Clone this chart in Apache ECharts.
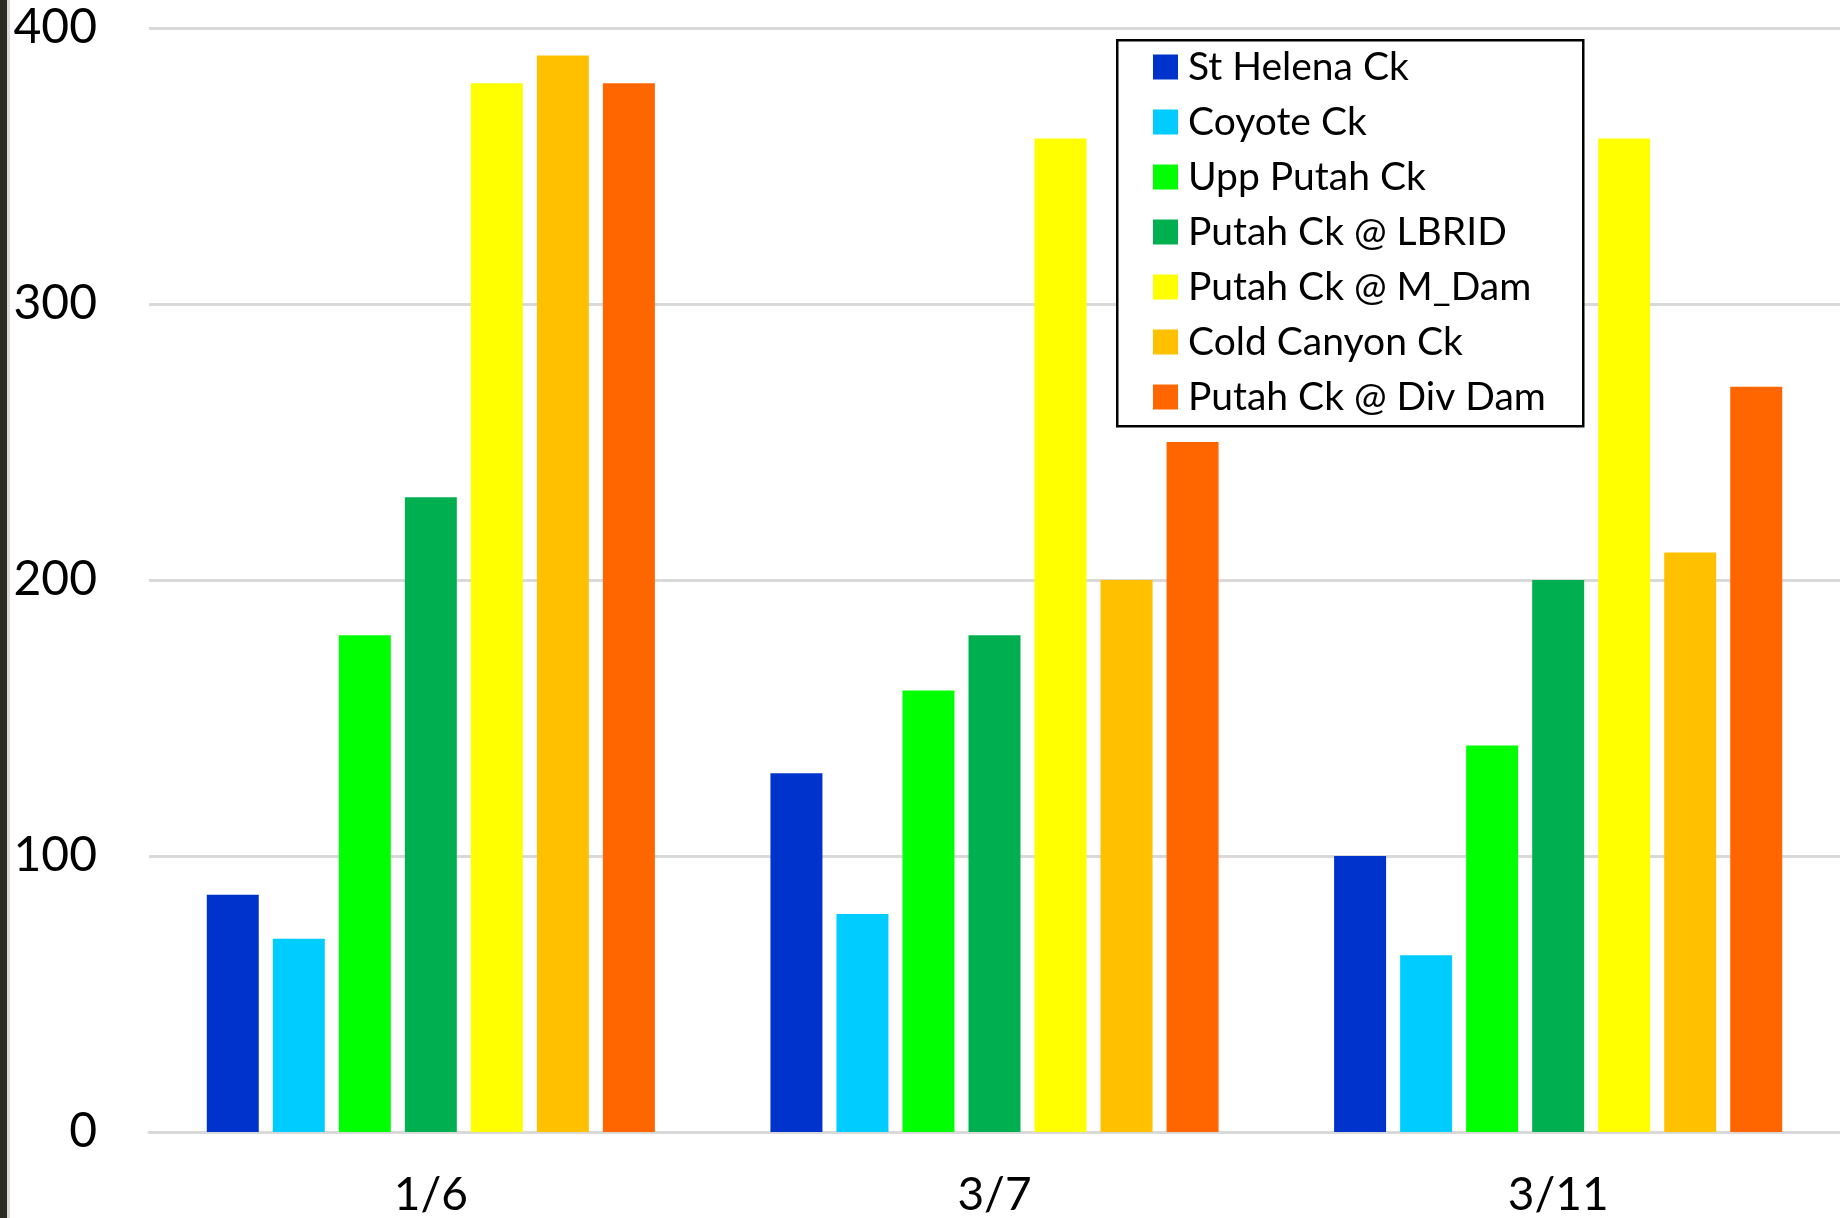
<!DOCTYPE html>
<html>
<head>
<meta charset="utf-8">
<script src="https://cdn.jsdelivr.net/npm/echarts@6/dist/echarts.min.js"></script>
<style>
html,body{margin:0;padding:0;background:#fff;}
#chart{width:1840px;height:1218px;}
</style>
</head>
<body>
<div id="chart"></div>
<script>
var categories = ['1/6', '3/7', '3/11'];
var seriesNames = ['St Helena Ck', 'Coyote Ck', 'Upp Putah Ck', 'Putah Ck @ LBRID', 'Putah Ck @ M_Dam', 'Cold Canyon Ck', 'Putah Ck @ Div Dam'];
var colors = ['#0033CC', '#00CCFF', '#00FF00', '#00B050', '#FFFF00', '#FFC000', '#FF6600'];
var stHelena = [86, 130, 100];
var coyote = [70, 79, 64];
var uppPutah = [180, 160, 140];
var lbrid = [230, 180, 200];
var mDam = [380, 360, 360];
var coldCanyon = [390, 200, 210];
var divDam = [380, 250, 270];
var yTicks = [0, 100, 200, 300, 400];

var seriesData = [stHelena, coyote, uppPutah, lbrid, mDam, coldCanyon, divDam];
var FONT = 'Lato, "Open Sans", sans-serif';

var chart = echarts.init(document.getElementById('chart'), null, {renderer: 'canvas'});
var series = seriesNames.map(function (n, i) {
  return {
    name: n,
    type: 'bar',
    data: seriesData[i],
    barGap: '27%',
    barCategoryGap: '20.5%',
    itemStyle: {color: colors[i]},
    emphasis: {disabled: true}
  };
});

chart.setOption({
  animation: false,
  backgroundColor: '#ffffff',
  color: colors,
  grid: {left: 149, right: 0, top: 28, bottom: 85, containLabel: false},
  xAxis: {
    type: 'category',
    data: categories,
    axisLine: {show: true, lineStyle: {color: '#d9d9d9', width: 3}},
    axisTick: {show: false},
    axisLabel: {color: '#000', fontFamily: FONT, fontSize: 46, margin: 40}
  },
  yAxis: {
    type: 'value',
    min: yTicks[0],
    max: yTicks[yTicks.length - 1],
    interval: 100,
    axisLine: {show: false},
    axisTick: {show: false},
    splitLine: {lineStyle: {color: '#d9d9d9', width: 3}},
    axisLabel: {color: '#000', fontFamily: FONT, fontSize: 48, margin: 52}
  },
  legend: {
    orient: 'vertical',
    left: 1148,
    top: 42,
    z: 20,
    itemWidth: 25,
    itemHeight: 25,
    itemGap: 15,
    icon: 'rect',
    selectedMode: false,
    data: seriesNames,
    textStyle: {color: '#000', fontFamily: FONT, fontSize: 39, lineHeight: 40, padding: [0, 0, 0, 5]}
  },
  graphic: [
    {type: 'rect', left: 0, top: 0, shape: {width: 7, height: 1218}, style: {fill: '#2b2b24'}, z: 100},
    {type: 'rect', left: 7, top: 0, shape: {width: 3, height: 1218}, style: {fill: '#d9d9d9'}, z: 100},
    {type: 'rect', left: 1116, top: 39, shape: {width: 466, height: 386}, style: {fill: '#ffffff', stroke: '#000', lineWidth: 2.5}, z: 3}
  ],
  series: series
});
</script>
</body>
</html>
